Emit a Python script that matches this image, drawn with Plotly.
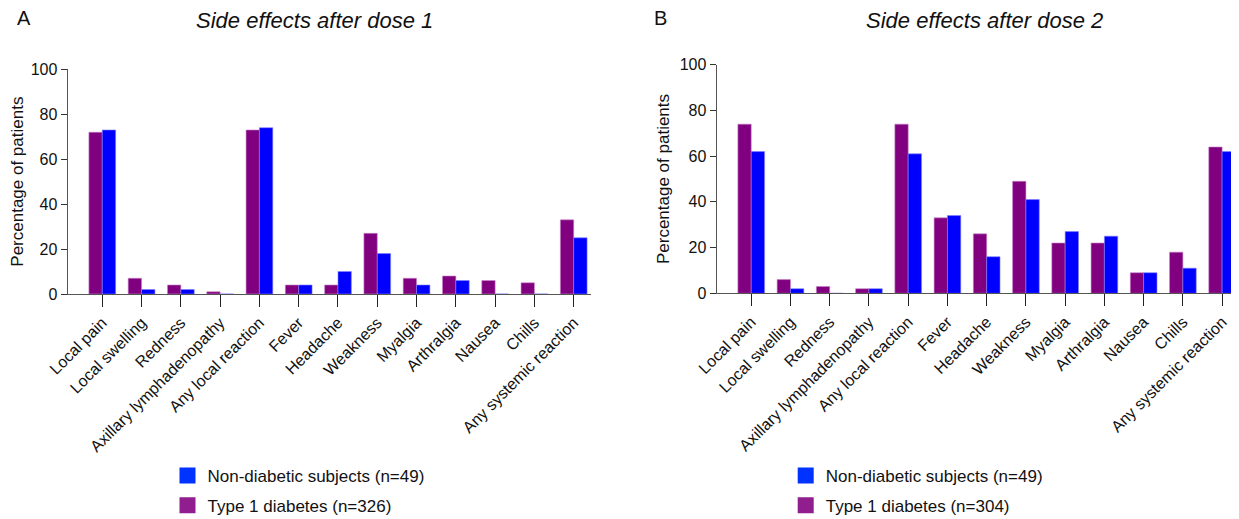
import plotly.graph_objects as go

categories = ["Local pain", "Local swelling", "Redness", "Axillary lymphadenopathy",
              "Any local reaction", "Fever", "Headache", "Weakness", "Myalgia",
              "Arthralgia", "Nausea", "Chills", "Any systemic reaction"]

dose1_t1d = [72, 7, 4, 1, 73, 4, 4, 27, 7, 8, 6, 5, 33]
dose1_nondiab = [73, 2, 2, 0, 74, 4, 10, 18, 4, 6, 0, 0, 25]

dose2_t1d = [74, 6, 3, 2, 74, 33, 26, 49, 22, 22, 9, 18, 64]
dose2_nondiab = [62, 2, 0, 2, 61, 34, 16, 41, 27, 25, 9, 11, 62]

name_nd = "Non-diabetic subjects (n=49)"
name_t1d_1 = "Type 1 diabetes (n=326)"
name_t1d_2 = "Type 1 diabetes (n=304)"

PURPLE = "#800080"
BLUE = "#0000FF"
PURPLE_KEY = "#901E8E"
BLUE_KEY = "#0033FF"
W, H = 1239, 519
OFF = 8  # default page body margin
FONT = "Arial, Liberation Sans, sans-serif"


def px(xp):
    return (xp - OFF) / W


def py(yp):
    return 1 - (yp - OFF) / H


fig = go.Figure()

panels = [
    ("x", "y", "legend", dose1_t1d, dose1_nondiab, name_t1d_1),
    ("x2", "y2", "legend2", dose2_t1d, dose2_nondiab, name_t1d_2),
]
for xa, ya, leg, t1d, nd, t1d_name in panels:
    fig.add_trace(go.Bar(x=categories, y=t1d, name=t1d_name, xaxis=xa, yaxis=ya, showlegend=False,
                         marker=dict(color=PURPLE, line=dict(color="#C784C7", width=0.6))))
    fig.add_trace(go.Bar(x=categories, y=nd, name=name_nd, xaxis=xa, yaxis=ya, showlegend=False,
                         marker=dict(color=BLUE, line=dict(color="#8080FF", width=0.6))))
    # legend keys
    fig.add_trace(go.Scatter(x=[None], y=[None], mode="markers", name=name_nd, xaxis=xa, yaxis=ya,
                             legend=leg, legendgroup=leg + "nd", hoverinfo="skip",
                             marker=dict(symbol="square", size=16, color=BLUE_KEY, line=dict(width=0))))
    fig.add_trace(go.Scatter(x=[None], y=[None], mode="markers", name=t1d_name, xaxis=xa, yaxis=ya,
                             legend=leg, legendgroup=leg + "t1d", hoverinfo="skip",
                             marker=dict(symbol="square", size=16, color=PURPLE_KEY, line=dict(width=0))))

xcommon = dict(type="category", showline=True, linecolor="#555", linewidth=1.3,
               ticks="outside", ticklen=12, tickcolor="#222", tickwidth=1.2,
               tickangle=-45, tickfont=dict(family=FONT, size=16, color="#111"),
               showgrid=False, zeroline=False, automargin=False)
ycommon = dict(range=[0, 100], tickvals=[0, 20, 40, 60, 80, 100], showline=True,
               linecolor="#555", linewidth=1.3, ticks="outside", ticklen=6,
               tickcolor="#333", tickwidth=1.2, tickfont=dict(family=FONT, size=16, color="#111"),
               showgrid=False, zeroline=False, automargin=False,
               title=dict(text="Percentage of patients", font=dict(family=FONT, size=17, color="#111"),
                          standoff=5))

legcommon = dict(orientation="v", traceorder="grouped", font=dict(family=FONT, size=17, color="#111"),
                 bgcolor="rgba(0,0,0,0)", xanchor="left", yanchor="top", tracegroupgap=4.5)

fig.update_layout(
    width=W, height=H, margin=dict(l=0, r=0, t=0, b=0, pad=0, autoexpand=False),
    paper_bgcolor="white", plot_bgcolor="white",
    barmode="group", bargap=0.32, bargroupgap=0.0,
    font=dict(family=FONT, color="#111"),
    xaxis=dict(xcommon, domain=[px(67.7), px(591)], range=[-0.88, 12.44], anchor="y"),
    yaxis=dict(ycommon, domain=[py(294), py(69.3)], anchor="x"),
    xaxis2=dict(xcommon, domain=[px(716.7), px(1239)], range=[-0.88, 12.43], anchor="y2"),
    yaxis2=dict(ycommon, domain=[py(293.3), py(64.7)], anchor="x2"),
    legend=dict(legcommon, x=px(167.5), y=py(458)),
    legend2=dict(legcommon, x=px(785.7), y=py(458)),
    annotations=[
        dict(text="<i>Side effects after dose 1</i>", x=px(314.7), y=py(20.5), xref="paper", yref="paper",
             showarrow=False, xanchor="center", yanchor="middle", font=dict(family=FONT, size=22, color="#111")),
        dict(text="<i>Side effects after dose 2</i>", x=px(984.6), y=py(20.5), xref="paper", yref="paper",
             showarrow=False, xanchor="center", yanchor="middle", font=dict(family=FONT, size=22, color="#111")),
        dict(text="A", x=px(23.7), y=py(18.3), xref="paper", yref="paper", showarrow=False,
             xanchor="center", yanchor="middle", font=dict(family=FONT, size=20, color="#111")),
        dict(text="B", x=px(661), y=py(17.5), xref="paper", yref="paper", showarrow=False,
             xanchor="center", yanchor="middle", font=dict(family=FONT, size=20, color="#111")),
    ],
)

fig.write_html("out.html")
